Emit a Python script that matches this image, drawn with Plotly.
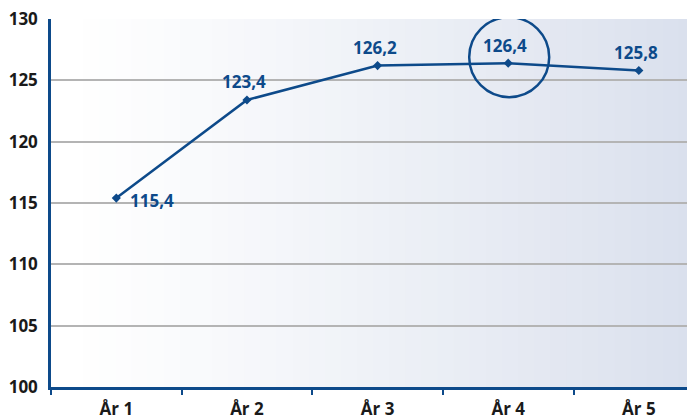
import plotly.graph_objects as go

categories = ["År 1", "År 2", "År 3", "År 4", "År 5"]
values = [115.4, 123.4, 126.2, 126.4, 125.8]
y_ticks = [100, 105, 110, 115, 120, 125, 130]

BLUE = "#0d4a8a"
FONT = "Open Sans"

labels = ["<b>" + f"{v:.1f}".replace(".", ",") + "</b>" for v in values]

fig = go.Figure()
fig.add_trace(go.Scatter(
    x=categories, y=values, mode="lines+markers",
    line=dict(color=BLUE, width=2.5),
    marker=dict(symbol="diamond", size=7, color=BLUE),
    cliponaxis=False, showlegend=False,
))

# value labels
for i, (c, v, t) in enumerate(zip(categories, values, labels)):
    if i == 0:
        fig.add_annotation(x=c, y=v, text=t, showarrow=False,
                           xanchor="left", yanchor="middle", xshift=12, yshift=-2,
                           font=dict(family=FONT, size=17, color=BLUE))
    else:
        fig.add_annotation(x=c, y=v, text=t, showarrow=False,
                           xanchor="center", yanchor="middle", xshift=-3, yshift=18,
                           font=dict(family=FONT, size=17, color=BLUE))

# background gradient (white -> light blue-grey)
n = 40
c0 = (255, 255, 255)
c1 = (218, 224, 237)
shapes = []
for i in range(n):
    t = i / (n - 1)
    col = tuple(int(round(c0[k] + (c1[k] - c0[k]) * t ** 1.2)) for k in range(3))
    shapes.append(dict(type="rect", xref="x domain", yref="y domain",
                       x0=i / n, x1=(i + 1) / n + 0.002, y0=0, y1=1,
                       fillcolor="rgb(%d,%d,%d)" % col, line=dict(width=0),
                       layer="below"))
# highlight circle around year 4
shapes.append(dict(type="circle", xref="x", yref="y",
                   xsizemode="pixel", ysizemode="pixel",
                   xanchor=categories[3], yanchor=values[3],
                   x0=-39, x1=41, y0=-34, y1=46,
                   line=dict(color=BLUE, width=2.5), layer="above"))

# page body has an 8px default margin, so the figure is sized to fill the rest
fig.update_layout(
    width=687, height=412,
    margin=dict(l=43, r=0, t=11, b=33),
    paper_bgcolor="white", plot_bgcolor="white",
    shapes=shapes,
    separators=", ",
    font=dict(family=FONT, color="#1a1a1a"),
)
fig.update_xaxes(
    type="category", range=[-0.5, 4.43], automargin=False,
    tickmode="array", tickvals=categories,
    ticktext=["<b>" + c + "</b>" for c in categories],
    tickfont=dict(family=FONT, size=17, color="#1a1a1a"),
    showgrid=False, showline=True, linecolor=BLUE, linewidth=2.5,
    ticks="outside", tickson="boundaries", ticklen=5, tickcolor=BLUE, tickwidth=1.5,
    mirror=False, zeroline=False, ticklabeloverflow="allow", ticklabelstandoff=5,
)
fig.update_yaxes(
    range=[100, 130], automargin=False, tickmode="array", tickvals=y_ticks,
    ticktext=["<b>%d</b>" % v for v in y_ticks],
    tickfont=dict(family=FONT, size=17, color="#1a1a1a"),
    showgrid=True, gridcolor="#b4b4b4", gridwidth=1.5,
    showline=True, linecolor=BLUE, linewidth=2.5, mirror=True,
    ticks="", ticklabelstandoff=7, zeroline=False, ticklabeloverflow="allow",
)

fig.write_html("out.html")
